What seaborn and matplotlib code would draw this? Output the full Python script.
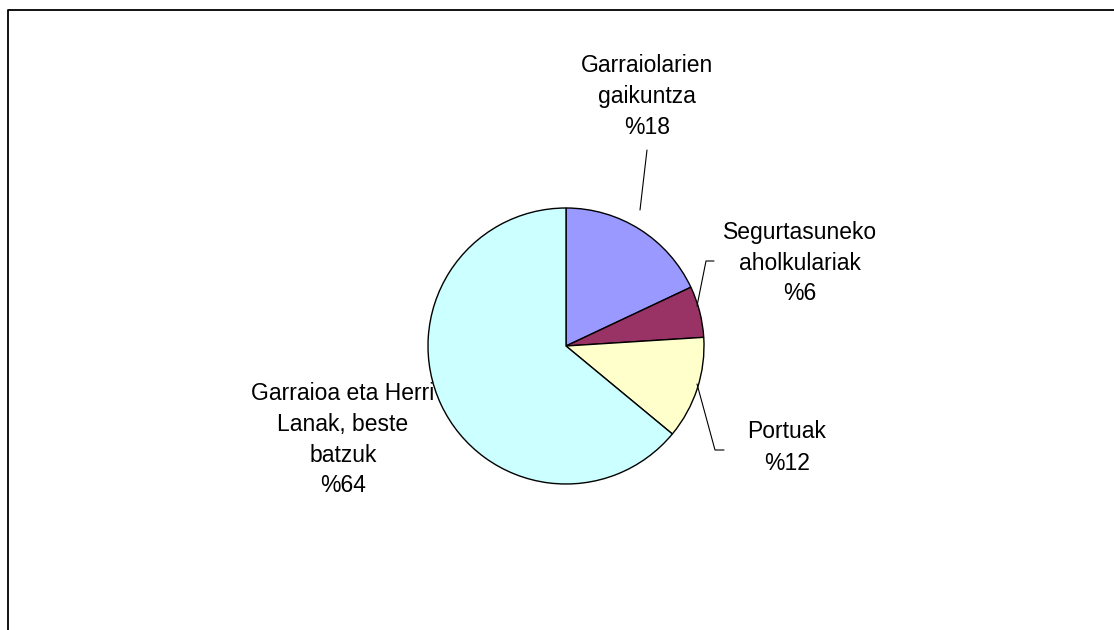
import matplotlib
matplotlib.use("Agg")
import matplotlib.pyplot as plt
import seaborn as sns

# data
labels = ["Garraiolarien\ngaikuntza", "Segurtasuneko\naholkulariak", "Portuak",
          "Garraioa eta Herri\nLanak, beste\nbatzuk"]
shares = [18, 6, 12, 64]
colors = ["#9999FF", "#993366", "#FFFFCC", "#CCFFFF"]

sns.set_style("white")
plt.rcParams['font.family'] = ['Liberation Sans', 'DejaVu Sans']

W, H = 1114, 630
fig = plt.figure(figsize=(W / 100, H / 100), dpi=100)
ax = fig.add_axes([0, 0, 1, 1])

# outer frame (left + top only visible)
ax.plot([8, 8, W + 5], [-5, H - 10, H - 10], color='black', lw=1.3, zorder=1)

# pie, center and radius in pixel units (y flipped)
cx, cy, r = 566, H - 346, 138
ax.pie(shares, colors=colors, startangle=90, counterclock=False,
       center=(cx, cy), radius=r, frame=True,
       wedgeprops=dict(edgecolor='black', linewidth=1.0, zorder=3))
ax.set_xlim(0, W)
ax.set_ylim(0, H)
ax.set_aspect('equal')
ax.axis('off')

# label positions (x center, y of first line from top) in pixel coords
label_pos = [(647, 65), (800, 232), (787, 432), (343, 393)]
for lab, val, (x, y) in zip(labels, shares, label_pos):
    txt = lab + "\n%" + str(val)
    for i, line in enumerate(txt.split("\n")):
        ax.text(x, H - (y + i * 31), line, ha='center', va='center',
                fontsize=16.5, color='black', zorder=2)

# leader lines
lc = dict(color='black', lw=0.8, zorder=4)
ax.plot([647, 640], [H - 150, H - 210], **lc)
ax.plot([714, 706, 697], [H - 261, H - 261, H - 306], **lc)
ax.plot([697, 715, 724], [H - 384, H - 450, H - 450], **lc)

fig.savefig("out.png", dpi=100)
